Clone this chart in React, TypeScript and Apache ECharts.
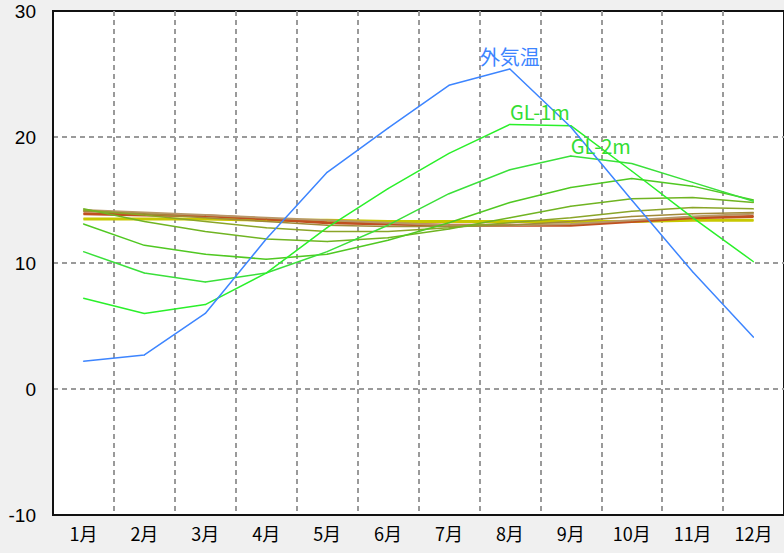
import React, { useEffect, useRef } from "react";
import * as echarts from "echarts";

const months = ["1月", "2月", "3月", "4月", "5月", "6月", "7月", "8月", "9月", "10月", "11月", "12月"];

const outdoor = [2.2, 2.7, 6.0, 11.9, 17.2, 20.7, 24.1, 25.4, 20.8, 15.0, 9.3, 4.1];
const gl1 = [7.2, 6.0, 6.7, 9.2, 12.8, 15.9, 18.7, 21.0, 20.9, 17.3, 13.6, 10.1];
const gl2 = [10.9, 9.2, 8.5, 9.2, 10.9, 13.0, 15.5, 17.4, 18.5, 17.9, 16.4, 14.9];
const gl3 = [13.1, 11.4, 10.7, 10.3, 10.7, 11.8, 13.2, 14.8, 16.0, 16.7, 16.1, 15.0];
const gl4 = [14.3, 13.3, 12.5, 11.9, 11.7, 12.0, 12.7, 13.6, 14.5, 15.1, 15.2, 14.8];
const gl5 = [14.2, 13.8, 13.3, 12.8, 12.5, 12.5, 12.8, 13.2, 13.6, 14.1, 14.4, 14.3];
const gl6 = [14.1, 13.9, 13.6, 13.3, 13.0, 12.9, 12.9, 13.0, 13.3, 13.7, 13.9, 14.0];
const gl7 = [14.2, 14.0, 13.8, 13.6, 13.4, 13.2, 13.0, 13.0, 13.1, 13.4, 13.7, 13.9];
const gl8 = [13.9, 13.8, 13.75, 13.5, 13.2, 13.1, 13.0, 13.0, 13.0, 13.3, 13.6, 13.7];
const gl10 = [13.5, 13.5, 13.5, 13.4, 13.4, 13.3, 13.3, 13.3, 13.3, 13.3, 13.4, 13.4];

const FONT = "'Noto Sans CJK JP', 'Noto Sans', sans-serif";

function withLabel(arr: number[], idx: number, text: string, color: string, align: string, distance: number) {
  return arr.map((v, i) =>
    i === idx
      ? {
          value: v,
          label: {
            show: true,
            formatter: text,
            position: "top",
            align,
            distance,
            color,
            fontSize: 20,
            fontFamily: FONT,
          },
        }
      : v
  );
}

function line(name: string, data: any[], color: string, width: number) {
  return {
    name,
    type: "line",
    data,
    symbol: "circle",
    symbolSize: 1,
    showSymbol: true,
    showAllSymbol: true,
    smooth: false,
    lineStyle: { color, width },
    itemStyle: { color },
    labelLayout: { hideOverlap: false },
    emphasis: { disabled: true },
  };
}

export default function App() {
  const ref = useRef<HTMLDivElement>(null);
  useEffect(() => {
    const chart = echarts.init(ref.current!, null, { renderer: "svg" });
    chart.setOption({
      animation: false,
      backgroundColor: "#f0f0f0",
      textStyle: { fontFamily: FONT },
      grid: {
        left: 53,
        top: 11,
        width: 736,
        height: 504,
        show: true,
        backgroundColor: "#ffffff",
        borderColor: "#111",
        borderWidth: 2,
      },
      xAxis: {
        type: "category",
        data: months,
        boundaryGap: true,
        axisLine: { show: true, onZero: false, lineStyle: { color: "#111", width: 2 } },
        axisTick: { show: false },
        axisLabel: { color: "#000", fontSize: 18, margin: 9, fontFamily: FONT, interval: 0 },
        splitLine: {
          show: true,
          interval: 0,
          showMinLine: false,
          showMaxLine: false,
          lineStyle: { color: "#9a9a9a", width: 2, type: [5, 4] },
        },
      },
      yAxis: {
        type: "value",
        min: -10,
        max: 30,
        interval: 10,
        axisLine: { show: true, lineStyle: { color: "#111", width: 2 } },
        axisTick: { show: false },
        axisLabel: {
          color: "#000",
          fontSize: 19,
          lineHeight: 16,
          margin: 17,
          fontFamily: "'Liberation Sans', 'DejaVu Sans', sans-serif",
        },
        splitLine: {
          show: true,
          showMinLine: false,
          showMaxLine: false,
          lineStyle: { color: "#9a9a9a", width: 2, type: [5, 4] },
        },
      },
      series: [
        line("GL-10m", gl10, "#c8c800", 3),
        line("GL-8m", gl8, "#c05020", 3),
        line("GL-7m", gl7, "#b89868", 2),
        line("GL-6m", gl6, "#a08a3a", 1.5),
        line("GL-5m", gl5, "#8aa528", 1.5),
        line("GL-4m", gl4, "#70b422", 1.5),
        line("GL-3m", gl3, "#50c822", 1.5),
        line("GL-2m", withLabel(gl2, 8, "GL-2m", "#33dd33", "left", 0), "#3ae03a", 1.5),
        line("GL-1m", withLabel(gl1, 7, "GL-1m", "#33dd33", "left", 2), "#2af02a", 1.5),
        line("外気温", withLabel(outdoor, 7, "外気温", "#3d85ff", "center", 2), "#3d85ff", 1.5),
      ],
    });
    return () => chart.dispose();
  }, []);
  return <div ref={ref} style={{ position: "fixed", left: 0, top: 0, width: 784, height: 553 }} />;
}
